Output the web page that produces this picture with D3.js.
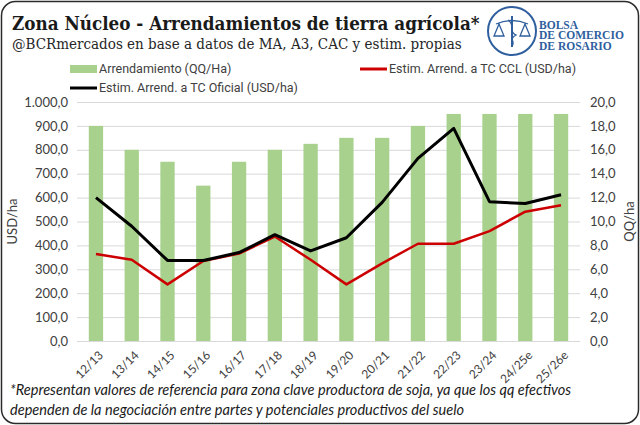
<!DOCTYPE html>
<html>
<head>
    <meta charset="utf-8">
    <title>Zona Núcleo - Arrendamientos</title>
    <script src="https://cdnjs.cloudflare.com/ajax/libs/d3/7.8.5/d3.min.js"></script>
    <style>
        body { margin: 0; background: #fff; }
        .axis text { font-family: Lato, "Open Sans", sans-serif; font-size: 13px; fill: #404040; }
        .axis .domain { display: none; }
        .grid line { stroke: #d9d9d9; }
    </style>
</head>
<body>
<script type="text/javascript">
    var campaigns = ["12/13", "13/14", "14/15", "15/16", "16/17", "17/18", "18/19",
                     "19/20", "20/21", "21/22", "22/23", "23/24", "24/25e", "25/26e"];
    // QQ/Ha (right axis)
    var arrendamientoQQ = [18, 16, 15, 13, 15, 16, 16.5, 17, 17, 18, 19, 19, 19, 19];
    // USD/ha (left axis)
    var tcOficial = [600, 480, 337, 337, 370, 445, 377, 432, 580, 764, 890, 583, 575, 612];
    var tcCcl = [364, 340, 237, 335, 366, 437, 340, 237, 325, 407, 407, 460, 541, 568];
    var usdTicks = d3.range(0, 1001, 100);
    var qqTicks = d3.range(0, 21, 2);

    var width = 640,
        height = 425,
        plotLeft = 77, plotRight = 580, plotTop = 102, plotBottom = 341;

    var es = d3.formatLocale({decimal: ",", thousands: ".", grouping: [3], currency: ["$", ""]});
    var fmt = es.format(",.1f");

    var x = d3.scaleBand()
            .domain(campaigns)
            .range([plotLeft, plotRight])
            .paddingInner(0.6)
            .paddingOuter(0.33),
        yUsd = d3.scaleLinear().domain([0, 1000]).range([plotBottom, plotTop]),
        yQQ = d3.scaleLinear().domain([0, 20]).range([plotBottom, plotTop]);

    var svg = d3.select("body").append("svg")
        .attr("width", width)
        .attr("height", height);

    svg.append("rect")
        .attr("x", 1.5).attr("y", 1.5)
        .attr("width", width - 3).attr("height", height - 3)
        .attr("rx", 14)
        .attr("fill", "#fff")
        .attr("stroke", "#2b2b2b")
        .attr("stroke-width", 1.5);

    renderHeader();
    renderAxes();
    renderBars();
    renderLines();
    renderLegend();
    renderFootnote();

    function fitWidth(sel, w){
        var len = sel.node().getComputedTextLength();
        sel.attr("font-size", parseFloat(sel.attr("font-size")) * w / len);
    }

    function renderHeader(){
        var title = svg.append("text")
            .attr("x", 12).attr("y", 30)
            .attr("font-family", "'DejaVu Serif Condensed', 'DejaVu Serif', serif")
            .attr("font-stretch", "condensed")
            .attr("font-weight", "bold")
            .attr("font-size", 18)
            .attr("fill", "#1a1a1a")
            .text("Zona Núcleo - Arrendamientos de tierra agrícola*");
        fitWidth(title, 468);

        var sub = svg.append("text")
            .attr("x", 12).attr("y", 49)
            .attr("font-family", "'DejaVu Serif Condensed', 'DejaVu Serif', serif")
            .attr("font-stretch", "condensed")
            .attr("font-size", 14)
            .attr("fill", "#262626")
            .text("@BCRmercados en base a datos de MA, A3, CAC y estim. propias");
        fitWidth(sub, 450);

        // logo
        var blue = "#2f5f9e";
        var logo = svg.append("g").attr("transform", "translate(512,31)");
        logo.append("circle").attr("r", 24)
            .attr("fill", "none").attr("stroke", blue).attr("stroke-width", 2);
        logo.append("line").attr("x1", 0).attr("y1", -15).attr("x2", 0).attr("y2", 16)
            .attr("stroke", blue).attr("stroke-width", 2);
        logo.append("path").attr("d", "M-16,-7 Q0,-14 16,-7 M-13,-7 L-18,5 L-8,5 Z M13,-7 L8,5 L18,5 Z")
            .attr("fill", "none").attr("stroke", blue).attr("stroke-width", 1.3);
        logo.append("path").attr("d", "M-4,-11 C4,-6 -4,0 4,4 C-4,8 4,11 0,15")
            .attr("fill", "none").attr("stroke", blue).attr("stroke-width", 1.3);

        var names = ["BOLSA", "DE COMERCIO", "DE ROSARIO"];
        var baselines = [28.5, 39, 49.5];
        var t = svg.append("g")
            .attr("font-family", "'Liberation Serif', serif")
            .attr("font-weight", "bold")
            .attr("fill", blue)
          .selectAll("text").data(names).enter().append("text")
            .attr("x", 539)
            .attr("y", function(d, i){ return baselines[i]; })
            .attr("font-size", 11)
            .text(function(d){ return d; });
        var len = t.nodes()[1].getComputedTextLength();
        t.attr("font-size", 11 * 85 / len);
    }

    function renderAxes(){
        var leftAxis = d3.axisLeft(yUsd)
            .tickValues(usdTicks)
            .tickFormat(fmt)
            .tickSize(-(plotRight - plotLeft))
            .tickPadding(9);

        svg.append("g")
            .attr("class", "axis grid")
            .attr("transform", "translate(" + plotLeft + ",0)")
            .call(leftAxis);

        var rightAxis = d3.axisRight(yQQ)
            .tickValues(qqTicks)
            .tickFormat(fmt)
            .tickSize(0)
            .tickPadding(10);

        svg.append("g")
            .attr("class", "axis")
            .attr("transform", "translate(" + plotRight + ",0)")
            .call(rightAxis);

        var xAxis = d3.axisBottom(x).tickSize(0);
        svg.append("g")
            .attr("class", "axis")
            .attr("transform", "translate(0," + plotBottom + ")")
            .call(xAxis)
          .selectAll("text")
            .attr("text-anchor", "end")
            .attr("font-size", "12px")
            .style("font-size", "12px")
            .attr("y", 0).attr("dy", "0.35em")
            .attr("transform", "translate(5,12) rotate(-45)");

        var mid = (plotTop + plotBottom) / 2;
        svg.append("text")
            .attr("transform", "translate(17," + mid + ") rotate(-90)")
            .attr("text-anchor", "middle")
            .attr("font-family", "Lato, sans-serif")
            .attr("font-size", 13)
            .attr("fill", "#404040")
            .text("USD/ha");

        svg.append("text")
            .attr("transform", "translate(634," + mid + ") rotate(-90)")
            .attr("text-anchor", "middle")
            .attr("font-family", "Lato, sans-serif")
            .attr("font-size", 13)
            .attr("fill", "#404040")
            .text("QQ/ha");
    }

    function renderBars(){
        svg.append("g").selectAll("rect")
            .data(arrendamientoQQ)
          .enter().append("rect")
            .attr("x", function(d, i){ return x(campaigns[i]); })
            .attr("y", function(d){ return yQQ(d); })
            .attr("width", x.bandwidth())
            .attr("height", function(d){ return plotBottom - yQQ(d); })
            .attr("fill", "#a9d18e");
    }

    function renderLines(){
        var line = d3.line()
            .x(function(d, i){ return x(campaigns[i]) + x.bandwidth() / 2; })
            .y(function(d){ return yUsd(d); });

        svg.append("path")
            .attr("d", line(tcCcl))
            .attr("fill", "none")
            .attr("stroke", "#cc0000")
            .attr("stroke-width", 2.5)
            .attr("stroke-linejoin", "round");

        svg.append("path")
            .attr("d", line(tcOficial))
            .attr("fill", "none")
            .attr("stroke", "#000")
            .attr("stroke-width", 3)
            .attr("stroke-linejoin", "round");
    }

    function renderLegend(){
        var items = [
            {label: "Arrendamiento (QQ/Ha)", x: 70, y: 69, type: "bar", color: "#a9d18e"},
            {label: "Estim. Arrend. a TC CCL (USD/ha)", x: 360, y: 69, type: "line", color: "#cc0000"},
            {label: "Estim. Arrend. a TC Oficial (USD/ha)", x: 70, y: 88, type: "line", color: "#000"}
        ];
        var g = svg.append("g").selectAll("g")
            .data(items)
          .enter().append("g")
            .attr("transform", function(d){ return "translate(" + d.x + "," + d.y + ")"; });

        g.filter(function(d){ return d.type == "bar"; })
          .append("rect")
            .attr("x", 0).attr("y", -4).attr("width", 27).attr("height", 8)
            .attr("fill", function(d){ return d.color; });

        g.filter(function(d){ return d.type == "line"; })
          .append("line")
            .attr("x1", 0).attr("x2", 27)
            .attr("stroke", function(d){ return d.color; })
            .attr("stroke-width", 3);

        g.append("text")
            .attr("x", 29).attr("dy", "0.35em")
            .attr("font-family", "Roboto, sans-serif")
            .attr("font-size", 12.5)
            .attr("fill", "#404040")
            .text(function(d){ return d.label; });
    }

    function renderFootnote(){
        var lines = ["*Representan valores de referencia para zona clave productora de soja, ya que los qq efectivos",
                     "dependen de la negociación entre partes y potenciales productivos del suelo"];
        var t = svg.append("g").selectAll("text")
            .data(lines)
          .enter().append("text")
            .attr("x", 10)
            .attr("y", function(d, i){ return 395 + i * 20; })
            .attr("font-family", "Lato, sans-serif")
            .attr("font-style", "italic")
            .attr("font-size", 13.5)
            .attr("fill", "#1a1a1a")
            .text(function(d){ return d; });
        fitWidth(d3.select(t.nodes()[0]), 562);
        t.attr("font-size", d3.select(t.nodes()[0]).attr("font-size"));
    }
</script>
</body>
</html>
